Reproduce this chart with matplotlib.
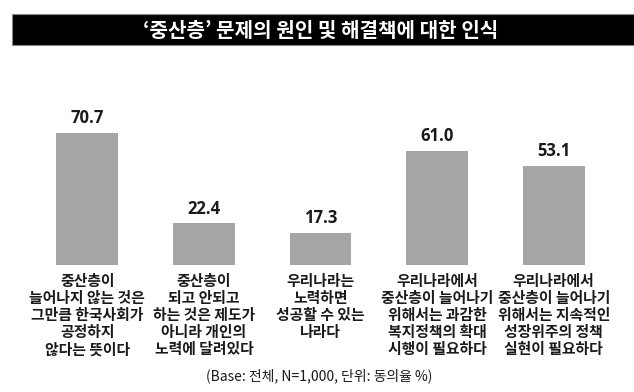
import matplotlib
matplotlib.use("Agg")
import matplotlib.pyplot as plt
from matplotlib.patches import Rectangle

plt.rcParams['font.family'] = ['Noto Sans CJK KR', 'DejaVu Sans']

# 데이터
title = "‘중산층’ 문제의 원인 및 해결책에 대한 인식"
categories = [
    "중산층이\n늘어나지 않는 것은\n그만큼 한국사회가\n공정하지\n않다는 뜻이다",
    "중산층이\n되고 안되고\n하는 것은 제도가\n아니라 개인의\n노력에 달려있다",
    "우리나라는\n노력하면\n성공할 수 있는\n나라다",
    "우리나라에서\n중산층이 늘어나기\n위해서는 과감한\n복지정책의 확대\n시행이 필요하다",
    "우리나라에서\n중산층이 늘어나기\n위해서는 지속적인\n성장위주의 정책\n실현이 필요하다",
]
values = [70.7, 22.4, 17.3, 61.0, 53.1]
footnote = "(Base: 전체, N=1,000, 단위: 동의율 %)"

BAR_COLOR = '#a6a6a6'
TEXT_COLOR = '#1a1a1a'

W, H = 634, 392
fig = plt.figure(figsize=(W / 100, H / 100), dpi=100)
fig.patch.set_facecolor('white')

# 제목 바
fig.patches.append(Rectangle((12 / W, 1 - 45 / H), 1 - 12 / W, 31 / H,
                             transform=fig.transFigure, facecolor='black',
                             edgecolor='#888888', linewidth=0.8))
fig.text(321 / W, 1 - 30 / H, title, color='white', fontsize=14.5,
         fontweight='bold', ha='center', va='center')

# 막대 영역
ax = fig.add_axes([29 / W, (H - 265) / H, 583 / W, 205 / H])
x = list(range(len(values)))
bars = ax.bar(x, values, width=0.53, color=BAR_COLOR)
ax.set_xlim(-0.5, len(values) - 0.5)
ax.set_ylim(0, 109.6)
ax.axis('off')

for rect, v in zip(bars, values):
    ax.annotate(f"{v:.1f}", (rect.get_x() + rect.get_width() / 2, v),
                xytext=(0, 4), textcoords='offset points',
                ha='center', va='bottom', fontsize=12, fontweight='bold',
                family=['Open Sans', 'DejaVu Sans'], color=TEXT_COLOR)

for i, label in enumerate(categories):
    ax.annotate(label, (i, 0), xytext=(0, -6), textcoords='offset points',
                ha='center', va='top', fontsize=10.7, fontweight='bold',
                linespacing=1.08, color=TEXT_COLOR, annotation_clip=False)

fig.text(319 / W, 1 - 376 / H, footnote, fontsize=10, ha='center',
         va='center', color=TEXT_COLOR, fontweight='medium')

fig.savefig('out.png', dpi=100)
